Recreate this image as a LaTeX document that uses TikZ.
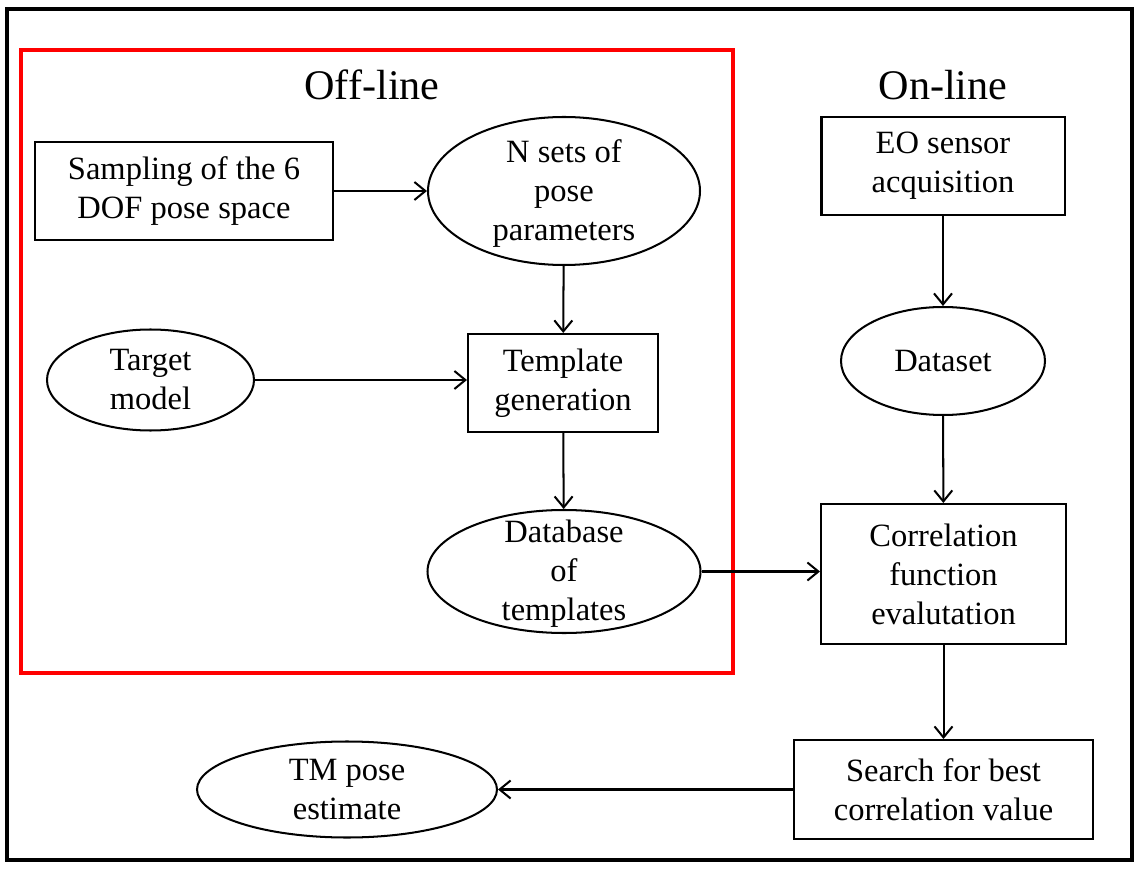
\documentclass[tikz,border=0pt]{standalone}
\usepackage{fontspec}
\setmainfont{Liberation Serif}
\usetikzlibrary{shapes.geometric,arrows.meta}

\begin{document}
\begin{tikzpicture}[y=-1cm]
  % Colors
  \definecolor{framecol}{RGB}{0,0,0}
  \definecolor{offcol}{RGB}{255,0,0}
  %
  \def\lw{1.15pt}
  \def\ovtext#1{\raisebox{-0.2cm}[0pt][0pt]{\begin{tabular}{@{}c@{}}#1\end{tabular}}}
  %
  \tikzset{
    pbox/.style={draw, line width=\lw, align=center, inner sep=2pt,
                 font=\fontsize{18.5}{22.2}\selectfont},
    pell/.style={draw, ellipse, line width=\lw, inner sep=0pt,
                 font=\fontsize{18.5}{22.2}\selectfont},
    flow/.style={line width=\lw, -{Straight Barb[length=2.2mm, width=3.6mm]}},
    phase/.style={font=\fontsize{24}{28}\selectfont},
  }
  %
  \useasboundingbox (0,0) rectangle (22.86,17.5);
  %
  %%% FRAMES %%%
  \draw[line width=2.3pt, framecol] (0.14,0.18) rectangle (22.64,17.2);
  \draw[line width=2.3pt, offcol] (0.42,1.0) rectangle (14.66,13.46);
  %
  %%% OFF-LINE %%%
  \node[phase] (offtitle) at (7.44,1.7) {Off-line};
  %
  \node[pbox, minimum width=5.96cm, minimum height=1.96cm] (samp) at (3.68,3.82)
    {Sampling of the 6\\DOF pose space};
  \node[pell, minimum width=5.44cm, minimum height=2.96cm] (nsets) at (11.28,3.82)
    {\ovtext{N sets of\\pose\\parameters}};
  \node[pell, minimum width=4.14cm, minimum height=2.02cm] (target) at (3.01,7.6)
    {\ovtext{Target\\model}};
  \node[pbox, minimum width=3.8cm, minimum height=1.96cm] (tmpl) at (11.26,7.66)
    {Template\\generation};
  \node[pell, minimum width=5.46cm, minimum height=2.46cm] (dbase) at (11.28,11.43)
    {\ovtext{Database\\of\\templates}};
  %
  %%% ON-LINE %%%
  \node[phase] (ontitle) at (18.86,1.7) {On-line};
  %
  \node[pbox, minimum width=4.86cm, minimum height=1.96cm] (eo) at (18.86,3.32)
    {EO sensor\\acquisition};
  \node[pell, minimum width=4.08cm, minimum height=2.16cm] (dset) at (18.86,7.22)
    {\ovtext{Dataset}};
  \node[pbox, minimum width=4.9cm, minimum height=2.8cm] (corr) at (18.87,11.48)
    {Correlation\\function\\evalutation};
  \node[pbox, minimum width=5.98cm, minimum height=1.98cm] (search) at (18.87,15.79)
    {Search for best\\correlation value};
  \node[pell, minimum width=6.0cm, minimum height=1.92cm] (tm) at (6.94,15.79)
    {\ovtext{TM pose\\estimate}};
  %
  %%% CONNECTORS %%%
  \draw[flow] (samp) -- (nsets);
  \draw[flow] (nsets) -- (tmpl);
  \draw[flow] (target.east) -- (target.east -| tmpl.west);
  \draw[flow] (tmpl) -- (dbase);
  \draw[flow] (dbase.east) -- (dbase.east -| corr.west);
  \draw[flow] (eo) -- (dset);
  \draw[flow] (dset) -- (corr);
  \draw[flow] (corr) -- (search);
  \draw[flow] (search) -- (tm);
\end{tikzpicture}
\end{document}
